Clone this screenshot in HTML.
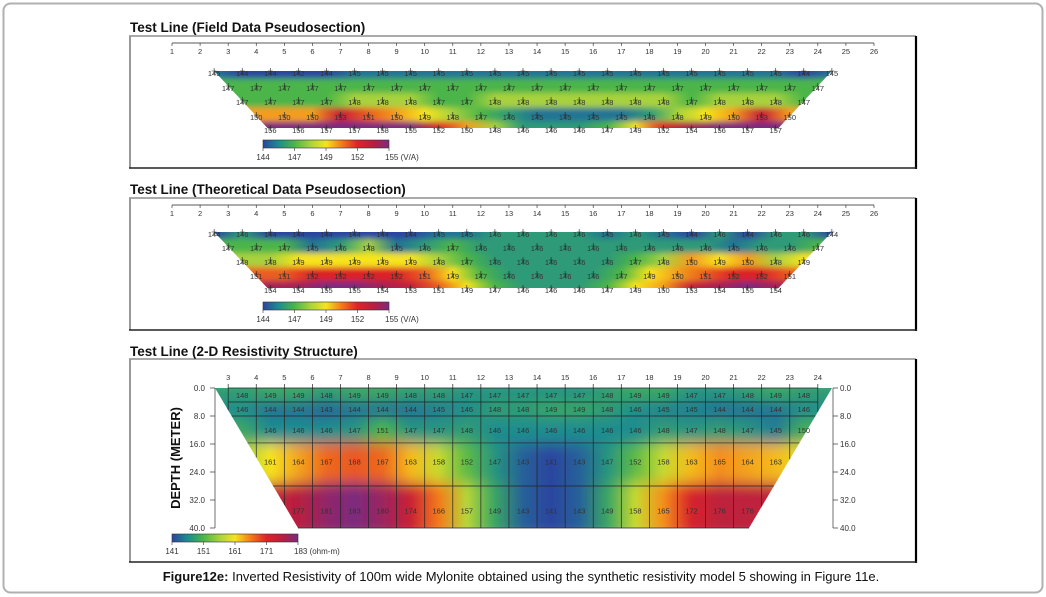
<!DOCTYPE html>
<html><head><meta charset="utf-8">
<style>
html,body{margin:0;padding:0;background:#fff;}
svg{display:block;font-family:"Liberation Sans",Arial,sans-serif;}
</style></head>
<body>
<svg id="fig" width="1046" height="597" viewBox="0 0 1046 597" xmlns="http://www.w3.org/2000/svg">
<defs>
<filter id="vblur" x="-5%" y="-50%" width="110%" height="200%"><feGaussianBlur stdDeviation="1.5 3"/></filter>
<filter id="vblur3" x="-5%" y="-50%" width="110%" height="200%"><feGaussianBlur stdDeviation="2 7"/></filter>
</defs>
<rect x="3.5" y="3.5" width="1039" height="589" rx="7" fill="none" stroke="#b0b0b0" stroke-width="2"/>
<text x="130" y="32" font-size="13.5" font-weight="bold" fill="#111">Test Line (Field Data Pseudosection)</text>
<text x="130" y="194" font-size="13.5" font-weight="bold" fill="#111">Test Line (Theoretical Data Pseudosection)</text>
<text x="130" y="356" font-size="13.5" font-weight="bold" fill="#111">Test Line (2-D Resistivity Structure)</text>
<g id="p1"></g>
<g id="p2"></g>
<g id="p3"></g>
<text x="180" y="458" font-size="13" font-weight="bold" fill="#111" text-anchor="middle" transform="rotate(-90 180 458)">DEPTH (METER)</text>
<text x="521" y="581" font-size="13" fill="#111" text-anchor="middle"><tspan font-weight="bold">Figure12e:</tspan> Inverted Resistivity of 100m wide Mylonite obtained using the synthetic resistivity model 5 showing in Figure 11e.</text>
</svg>
<script>
// ---- data ----
const electrodeTicks = [1,2,3,4,5,6,7,8,9,10,11,12,13,14,15,16,17,18,19,20,21,22,23,24,25,26];
const pseudoRowStarts = [2.5,3,3.5,4,4.5];
const fieldRow1 = [145,144,144,142,144,145,145,145,145,145,145,145,145,145,145,145,145,145,145,145,145,144,145];
const fieldRow2 = [147,147,147,147,147,147,147,147,147,147,147,147,147,147,147,147,147,147,147,147,147,147];
const fieldRow3 = [147,147,147,147,148,148,148,147,147,148,148,148,148,148,148,148,147,148,148,148,147];
const fieldRow4 = [150,150,150,153,151,150,149,148,147,146,145,145,145,145,146,148,149,150,153,150];
const fieldRow5 = [156,156,157,157,158,155,152,150,148,146,146,146,147,149,152,154,156,157,157];
const theoRow1 = [144,146,144,144,144,144,144,144,145,145,146,146,146,146,145,146,145,144,146,144,146,146,144];
const theoRow2 = [147,147,147,145,146,148,145,146,147,146,146,146,146,146,146,146,146,146,145,146,146,147];
const theoRow3 = [148,148,149,149,149,149,149,148,147,146,146,146,146,146,147,148,150,149,150,148,149];
const theoRow4 = [151,151,152,152,152,152,151,149,147,146,146,146,146,147,149,150,151,152,152,151];
const theoRow5 = [154,154,155,155,154,153,151,149,147,146,146,146,147,149,150,153,154,155,154];
const pseudoScaleTicks = [144,147,149,152,155];
const structTicks = [3,4,5,6,7,8,9,10,11,12,13,14,15,16,17,18,19,20,21,22,23,24];
const depthTicks = [0,8,16,24,32,40];
const layerTops = [0,4,8,15.7,28];
const layerBottoms = [4,8,15.7,28,40];
const modelRow1 = [148,149,149,148,149,149,148,148,147,147,147,147,147,148,149,149,147,147,148,149,148];
const modelRow2 = [146,144,144,143,144,144,144,145,146,148,148,149,149,148,146,145,145,144,144,144,146];
const modelRow3 = [149,146,146,146,147,151,147,147,148,146,146,146,146,146,146,148,147,148,147,145,150];
const modelRow4 = [156,161,164,167,168,167,163,158,152,147,143,141,143,147,152,158,163,165,164,163,160];
const modelRow5 = [170,175,177,181,183,180,174,166,157,149,143,141,143,149,158,165,172,176,176,176,176];
const modelScaleTicks = [141,151,161,171,183];

const NS="http://www.w3.org/2000/svg";
function el(tag,attrs,parent){const e=document.createElementNS(NS,tag);for(const k in attrs)e.setAttribute(k,attrs[k]);if(parent)parent.appendChild(e);return e;}
const ex = e => 172 + (e-1)*28.08;           // electrode -> x
const palette = ['#2c45a0','#1f8c8e','#4cb548','#a8d23e','#f6e41c','#f37a1c','#dc2428','#b81f40','#7d2a7e'];
function colorFor(v,ticks){
  let t;
  if(v<=ticks[0]) t=0; else if(v>=ticks[4]) t=8;
  else{for(let i=0;i<4;i++){if(v<=ticks[i+1]){t=2*i+2*(v-ticks[i])/(ticks[i+1]-ticks[i]);break;}}}
  const i=Math.min(7,Math.floor(t)),f=t-i;
  const a=hex(palette[i]),b=hex(palette[i+1]);
  return 'rgb('+a.map((c,k)=>Math.round(c+(b[k]-c)*f)).join(',')+')';
}
function hex(h){return [1,3,5].map(i=>parseInt(h.substr(i,2),16));}
let gid=0;
function rowGradient(xs,vals,ticks){
  const defs=document.querySelector('defs');
  const id='g'+(gid++);
  const g=el('linearGradient',{id:id,gradientUnits:'userSpaceOnUse',x1:xs[0],x2:xs[xs.length-1],y1:0,y2:0},defs);
  vals.forEach((v,i)=>{el('stop',{offset:(xs[i]-xs[0])/(xs[xs.length-1]-xs[0]),'stop-color':colorFor(v,ticks)},g);});
  return id;
}
function colorbar(parent,x0,x1,y0,ticks,unit,name){
  const xs=[],vals=[];
  for(let i=0;i<=40;i++){const t=i/40*4;const k=Math.min(3,Math.floor(t));vals.push(ticks[k]+(ticks[k+1]-ticks[k])*(t-k));xs.push(x0+(x1-x0)*i/40);}
  const id=rowGradient(xs,vals,ticks);
  const cb=el('g',{},parent);
  
  
  el('rect',{x:x0,y:y0,width:x1-x0,height:8,fill:'url(#'+id+')',stroke:'#333','stroke-width':0.6},cb);
  ticks.forEach((t,i)=>{const x=x0+(x1-x0)*i/4;
    el('line',{x1:x,x2:x,y1:y0+8,y2:y0+11,stroke:'#333','stroke-width':0.6},cb);
    const tx=el('text',{x:x,y:y0+20,'font-size':8,fill:'#333','text-anchor':i==4?'start':'middle',dx:i==4?-4:0},cb);
    tx.textContent=t+(i==4?' '+unit:'');
    
    
  });
}
function frame(parent,top,bottom){
  el('line',{x1:129,x2:916,y1:top,y2:top,stroke:'#555','stroke-width':1},parent);
  el('line',{x1:130,x2:130,y1:top,y2:bottom,stroke:'#999','stroke-width':2},parent);
  el('line',{x1:916,x2:916,y1:top,y2:bottom+1,stroke:'#000','stroke-width':2.2},parent);
  el('line',{x1:129,x2:917,y1:bottom,y2:bottom,stroke:'#222','stroke-width':1.5},parent);
}
function pseudo(pid,top,bottom,axisY,rowY,rows){
  const p=document.getElementById(pid);
  frame(p,top,bottom);
  const ax=el('g',{},p);
  
  
  el('line',{x1:ex(1),x2:ex(26),y1:axisY,y2:axisY,stroke:'#222','stroke-width':0.8},ax);
  electrodeTicks.forEach(e=>{el('line',{x1:ex(e),x2:ex(e),y1:axisY,y2:axisY+3,stroke:'#222','stroke-width':0.6},ax);
    const t=el('text',{x:ex(e),y:axisY+11,'font-size':7.5,fill:'#333','text-anchor':'middle'},ax);t.textContent=e;
    
    });
  const yTop=rowY[0],yBot=rowY[4];
  const clipId=pid+'clip';
  const cp=el('clipPath',{id:clipId},document.querySelector('defs'));
  el('polygon',{points:[ex(2.5),yTop,ex(24.5),yTop,ex(22.6),yBot,ex(4.4),yBot].join(' ')},cp);
  const outer=el('g',{'clip-path':'url(#'+clipId+')'},p);
  
  
  const bl=el('g',{filter:'url(#vblur)'},outer);
  rows.forEach((vals,r)=>{
    const xs=vals.map((v,i)=>ex(pseudoRowStarts[r]+i));
    const id=rowGradient(xs,vals,pseudoScaleTicks);
    const y0=r==0?yTop-10:(rowY[r-1]+rowY[r])/2, y1=r==4?yBot+10:(rowY[r]+rowY[r+1])/2;
    const band=el('rect',{x:150,y:y0,width:720,height:y1-y0,fill:'url(#'+id+')'},bl);
    
    
  });
  const lab=el('g',{},p);
  rows.forEach((vals,r)=>{vals.forEach((v,i)=>{
    const x=ex(pseudoRowStarts[r]+i),y=rowY[r];
    el('path',{d:`M${x-2.5} ${y}H${x+2.5}M${x} ${y-3}V${y+3}`,stroke:'#222','stroke-width':0.6},lab);
    const t=el('text',{x:x,y:y+5,'font-size':7.5,fill:'#333','text-anchor':'middle'},lab);t.textContent=v;
    
    
  });});
}
pseudo('p1',36,168,43,[71,86,100,115,128],[fieldRow1,fieldRow2,fieldRow3,fieldRow4,fieldRow5]);
colorbar(document.getElementById('p1'),263,389,140,pseudoScaleTicks,'(V/A)','field-colorbar');
pseudo('p2',198,330,205,[232,246,260,274,288],[theoRow1,theoRow2,theoRow3,theoRow4,theoRow5]);
colorbar(document.getElementById('p2'),263,389,302,pseudoScaleTicks,'(V/A)','theoretical-colorbar');

// ---- panel 3 ----
(function(){
  const p=document.getElementById('p3');
  frame(p,359,562);
  const dy=d=>388+d*3.5;
  const clipId='p3clip';
  const cp=el('clipPath',{id:clipId},document.querySelector('defs'));
  const L0=215,R0=832,L1=298,R1=749;
  el('polygon',{points:[L0,dy(0),R0,dy(0),R1,dy(40),L1,dy(40)].join(' ')},cp);
  const outer=el('g',{'clip-path':'url(#'+clipId+')'},p);
  
  
  const bl=el('g',{filter:'url(#vblur3)'},outer);
  const rows=[modelRow1,modelRow2,modelRow3,modelRow4,modelRow5];
  const centers=[2,6,11.5,20,34];
  rows.forEach((vals,r)=>{
    const xs=vals.map((v,i)=>ex(3.5+i));
    const id=rowGradient(xs,vals,modelScaleTicks);
    const y0=r==0?dy(-3):dy((centers[r-1]+centers[r])/2), y1=r==4?dy(43):dy((centers[r]+centers[r+1])/2);
    const band=el('rect',{x:190,y:y0,width:670,height:y1-y0,fill:'url(#'+id+')'},bl);
    
    
  });
  const grid=el('g',{stroke:'#222','stroke-width':0.7},p);
  
  
  const edgeL=y=>L0+(L1-L0)*(y-dy(0))/(dy(40)-dy(0));
  const edgeR=y=>R0+(R1-R0)*(y-dy(0))/(dy(40)-dy(0));
  layerTops.concat([40]).forEach(d=>{const y=dy(d);el('line',{x1:Math.max(edgeL(y),ex(3)),x2:Math.min(edgeR(y),ex(24)),y1:y,y2:y},grid);});
  structTicks.forEach(e=>{const x=ex(e);
    let y2=dy(40);
    if(x<L1){y2=dy(0)+(x-L0)/(L1-L0)*(dy(40)-dy(0));}
    if(x>R1){y2=dy(0)+(R0-x)/(R0-R1)*(dy(40)-dy(0));}
    el('line',{x1:x,x2:x,y1:dy(0)-4,y2:y2},grid);
    const t=el('text',{x:x,y:380,'font-size':7.5,fill:'#333','text-anchor':'middle',stroke:'none'},p);t.textContent=e;
    
    
  });
  el('line',{x1:215,x2:215,y1:dy(0),y2:dy(40),stroke:'#333','stroke-width':0.7},p);
  el('line',{x1:833,x2:833,y1:dy(0),y2:dy(40),stroke:'#333','stroke-width':0.7},p);
  depthTicks.forEach(d=>{const y=dy(d);
    el('line',{x1:210,x2:215,y1:y,y2:y,stroke:'#333','stroke-width':0.7},p);
    el('line',{x1:833,x2:838,y1:y,y2:y,stroke:'#333','stroke-width':0.7},p);
    const a=el('text',{x:205,y:y+3,'font-size':8,fill:'#333','text-anchor':'end'},p);a.textContent=d.toFixed(1);
    
    
    const b=el('text',{x:840,y:y+3,'font-size':8,fill:'#333'},p);b.textContent=d.toFixed(1);
    
    
  });
  const labY=[2,6,12,21,35];
  rows.forEach((vals,r)=>{vals.forEach((v,i)=>{
    const x=ex(3.5+i),y=dy(labY[r]);
    if(x<edgeL(y)+6||x>edgeR(y)+4) return;
    const t=el('text',{x:x,y:y+3,'font-size':7.5,fill:'#333','text-anchor':'middle'},p);t.textContent=v;
    
    
  });});
  colorbar(p,172,298,534,modelScaleTicks,'(ohm-m)','model-colorbar');
})();
</script>
</body></html>
